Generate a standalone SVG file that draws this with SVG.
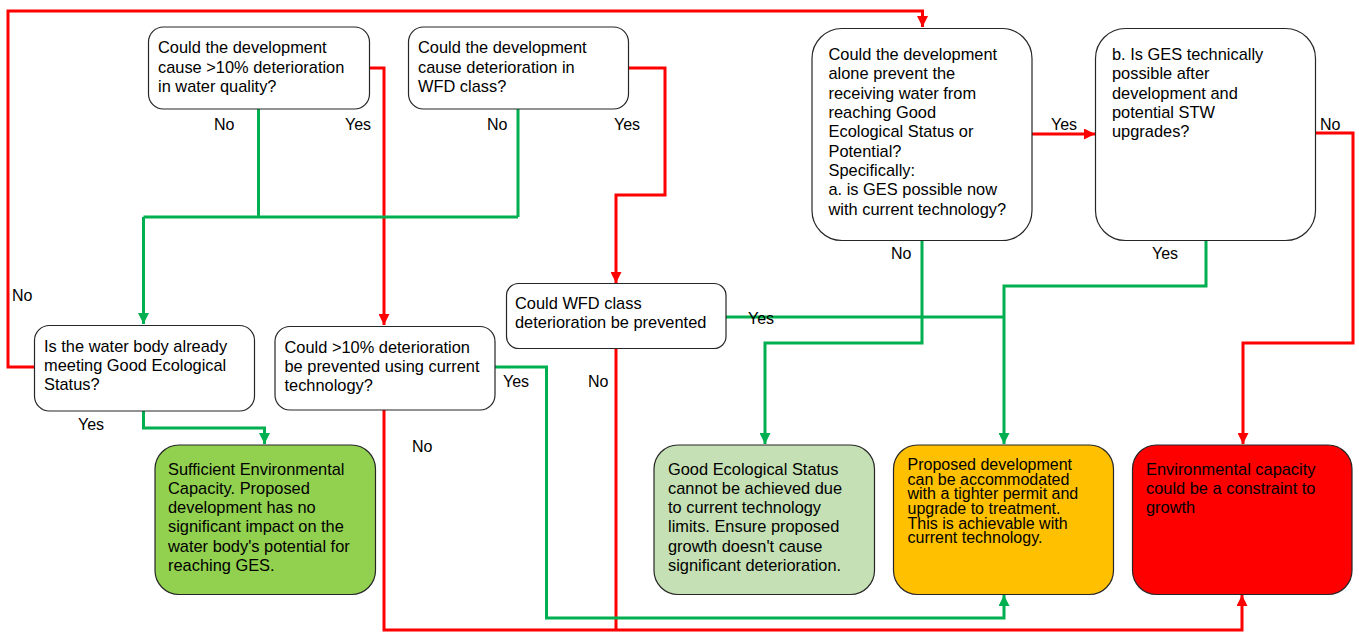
<svg xmlns="http://www.w3.org/2000/svg" width="1359" height="632" viewBox="0 0 1359 632">
<style>
.box{fill:#fff;stroke:#262626;stroke-width:1.2}
.t{font-family:"Liberation Sans",Arial,sans-serif;font-size:16px;fill:#000}
.n{font-family:"Liberation Sans",Arial,sans-serif;font-size:16.4px;fill:#000}
.r{fill:none;stroke:#ff0000;stroke-width:3}
.g{fill:none;stroke:#00b050;stroke-width:3}
</style>
<defs>
<marker id="ar" viewBox="0 0 10 10" refX="10" refY="5" markerWidth="11" markerHeight="11" markerUnits="userSpaceOnUse" orient="auto"><path d="M0,0 L10,5 L0,10 z" fill="#ff0000"/></marker>
<marker id="ag" viewBox="0 0 10 10" refX="10" refY="5" markerWidth="11" markerHeight="11" markerUnits="userSpaceOnUse" orient="auto"><path d="M0,0 L10,5 L0,10 z" fill="#00b050"/></marker>
</defs>
<rect width="1359" height="632" fill="#fff"/>
<g id="connectors">
<path class="r" d="M35,367 H8 V11 H922.5 V27" marker-end="url(#ar)"/>
<path class="r" d="M370,68 H384 V325" marker-end="url(#ar)"/>
<path class="g" d="M258.5,109 V217 M518,109 V217 M143.5,217 H518"/>
<path class="g" d="M143.5,217 V324" marker-end="url(#ag)"/>
<path class="r" d="M629,68 H665 V195 H616 V283" marker-end="url(#ar)"/>
<path class="g" d="M143.5,411 V428 H264.5 V444" marker-end="url(#ag)"/>
<path class="r" d="M384,410 V630 H1242 V595" marker-end="url(#ar)"/>
<path class="r" d="M616,348 V630"/>
<path class="g" d="M495,367 H546.5 V618 H1004 V595" marker-end="url(#ag)"/>
<path class="g" d="M726,317 H1004"/>
<path class="g" d="M1206,241 V286 H1004 V444" marker-end="url(#ag)"/>
<path class="g" d="M922,241 V343 H765 V444" marker-end="url(#ag)"/>
<path class="r" d="M1032,134 H1095" marker-end="url(#ar)"/>
<path class="r" d="M1316,133 H1353 V343 H1243 V444" marker-end="url(#ar)"/>
<text class="t" x="214" y="130">No</text>
<text class="t" x="345" y="130">Yes</text>
<text class="t" x="487" y="130">No</text>
<text class="t" x="614" y="130">Yes</text>
<text class="t" x="1051" y="130">Yes</text>
<text class="t" x="1320" y="130">No</text>
<text class="t" x="891" y="259">No</text>
<text class="t" x="1152" y="259">Yes</text>
<text class="t" x="12" y="301">No</text>
<text class="t" x="78" y="430">Yes</text>
<text class="t" x="412" y="452">No</text>
<text class="t" x="503" y="387">Yes</text>
<text class="t" x="588" y="387">No</text>
<text class="t" x="748" y="324">Yes</text>
</g>
<g id="nodeA">
<rect class="box" x="148.5" y="27" width="221" height="82" rx="15"/>
<text class="n"><tspan x="158" y="53">Could the development</tspan><tspan x="158" y="72.5">cause &gt;10% deterioration</tspan><tspan x="158" y="92">in water quality?</tspan></text>
</g>
<g id="nodeB">
<rect class="box" x="408.5" y="27" width="220" height="82" rx="15"/>
<text class="n"><tspan x="418" y="53">Could the development</tspan><tspan x="418" y="72.5">cause deterioration in</tspan><tspan x="418" y="92">WFD class?</tspan></text>
</g>
<g id="nodeC">
<rect class="box" x="812" y="28.5" width="220" height="212" rx="30"/>
<text class="n"><tspan x="828.5" y="60">Could the development</tspan><tspan x="828.5" y="79.3">alone prevent the</tspan><tspan x="828.5" y="98.6">receiving water from</tspan><tspan x="828.5" y="118">reaching Good</tspan><tspan x="828.5" y="137.3">Ecological Status or</tspan><tspan x="828.5" y="156.6">Potential?</tspan><tspan x="828.5" y="176">Specifically:</tspan><tspan x="828.5" y="195.3">a. is GES possible now</tspan><tspan x="828.5" y="214.6">with current technology?</tspan></text>
</g>
<g id="nodeI">
<rect class="box" x="1095.5" y="28.5" width="220" height="212" rx="30"/>
<text class="n"><tspan x="1112" y="60">b. Is GES technically</tspan><tspan x="1112" y="79.3">possible after</tspan><tspan x="1112" y="98.6">development and</tspan><tspan x="1112" y="118">potential STW</tspan><tspan x="1112" y="137.3">upgrades?</tspan></text>
</g>
<g id="nodeE">
<rect class="box" x="34.5" y="325.5" width="220" height="85.5" rx="15"/>
<text class="n"><tspan x="44" y="352">Is the water body already</tspan><tspan x="44" y="371">meeting Good Ecological</tspan><tspan x="44" y="390">Status?</tspan></text>
</g>
<g id="nodeD">
<rect class="box" x="275" y="326.5" width="220" height="83.5" rx="15"/>
<text class="n"><tspan x="284.5" y="353">Could &gt;10% deterioration</tspan><tspan x="284.5" y="372">be prevented using current</tspan><tspan x="284.5" y="391">technology?</tspan></text>
</g>
<g id="nodeF">
<rect class="box" x="506.5" y="283.5" width="219.5" height="65" rx="12"/>
<text class="n"><tspan x="515" y="309">Could WFD class</tspan><tspan x="515" y="328">deterioration be prevented</tspan></text>
</g>
<g id="nodeG">
<rect x="155" y="445" width="220.5" height="149.5" rx="24" fill="#92d050" stroke="#262626" stroke-width="1.2"/>
<text class="n"><tspan x="168" y="475">Sufficient Environmental</tspan><tspan x="168" y="494">Capacity. Proposed</tspan><tspan x="168" y="513">development has no</tspan><tspan x="168" y="532">significant impact on the</tspan><tspan x="168" y="551.5">water body's potential for</tspan><tspan x="168" y="570.5">reaching GES.</tspan></text>
</g>
<g id="nodeH">
<rect x="654" y="445" width="220.5" height="149.5" rx="24" fill="#c5e0b4" stroke="#262626" stroke-width="1.2"/>
<text class="n"><tspan x="668" y="475">Good Ecological Status</tspan><tspan x="668" y="494">cannot be achieved due</tspan><tspan x="668" y="512.5">to current technology</tspan><tspan x="668" y="531.5">limits. Ensure proposed</tspan><tspan x="668" y="551.5">growth doesn't cause</tspan><tspan x="668" y="570.5">significant deterioration.</tspan></text>
</g>
<g id="nodeJ">
<rect x="893.5" y="445" width="220" height="149.5" rx="24" fill="#ffc000" stroke="#262626" stroke-width="1.2"/>
<text class="t"><tspan x="907.5" y="469.5">Proposed development</tspan><tspan x="907.5" y="484.5">can be accommodated</tspan><tspan x="907.5" y="499">with a tighter permit and</tspan><tspan x="907.5" y="513.5">upgrade to treatment.</tspan><tspan x="907.5" y="528.5">This is achievable with</tspan><tspan x="907.5" y="542.5">current technology.</tspan></text>
</g>
<g id="nodeK">
<rect x="1132.5" y="445" width="219.5" height="149.5" rx="24" fill="#ff0000" stroke="#262626" stroke-width="1.2"/>
<text class="n"><tspan x="1146" y="475">Environmental capacity</tspan><tspan x="1146" y="494">could be a constraint to</tspan><tspan x="1146" y="512.5">growth</tspan></text>
</g>
</svg>
